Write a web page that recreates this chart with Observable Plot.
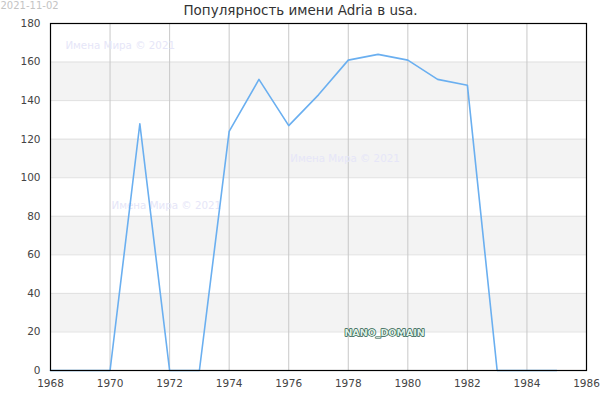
<!DOCTYPE html>
<html>
<head>
<meta charset="utf-8">
<script src="https://cdn.jsdelivr.net/npm/d3@7"></script>
<script src="https://cdn.jsdelivr.net/npm/@observablehq/plot@0.6"></script>
<style>
body { margin: 0; background: #fff; }
svg { font-family: "DejaVu Sans", sans-serif; }
</style>
</head>
<body>
<div id="chart"></div>
<script>
const years = [1968,1969,1970,1971,1972,1973,1974,1975,1976,1977,1978,1979,1980,1981,1982,1983,1984,1985];
const counts = [0,0,0,128,0,0,124,151,127,143,161,164,161,151,148,0,0,0];
const xTicks = [1968,1970,1972,1974,1976,1978,1980,1982,1984,1986];
const yTicks = [0,20,40,60,80,100,120,140,160,180];
const bandStarts = [20,60,100,140];
const title = "Популярность имени Adria в usa.";
const dateLabel = "2021-11-02";
const watermark = "Имена Мира © 2021";
const watermarkPos = [{x:1968.5,y:168.5},{x:1976.05,y:110},{x:1970.05,y:85.5}];
const domainLabel = "NANO_DOMAIN";
const domainPos = [{x:1977.87,y:19.5}];

const data = years.map((y,i)=>({year:y, n:counts[i]}));

const plot = Plot.plot({
  width: 600,
  height: 400,
  marginLeft: 50,
  marginRight: 14,
  marginTop: 23,
  marginBottom: 30,
  style: {fontFamily: "DejaVu Sans, sans-serif", fontSize: "10.5px", color: "#444", background: "#fff"},
  x: {domain: [1968,1986], ticks: xTicks, tickFormat: d=>String(d), tickSize: 0, tickPadding: 9, label: null},
  y: {domain: [0,180], ticks: yTicks, tickSize: 0, tickPadding: 10, label: null},
  marks: [
    Plot.rect(bandStarts, {y1: d=>d, y2: d=>d+20, fill: "#f3f3f3"}),
    Plot.ruleY(yTicks, {stroke: "#e0e0e0", strokeWidth: 1}),
    Plot.ruleX(xTicks, {stroke: "#c8c8c8", strokeWidth: 1}),
    Plot.text(watermarkPos, {x:"x", y:"y", text: ()=>watermark, textAnchor:"start", fill:"#e6e6f8", fontSize: "10.3px"}),
    Plot.line(data, {x:"year", y:"n", stroke:"#6aaff0", strokeWidth: 1.6}),
    Plot.text(domainPos, {x:"x", y:"y", text: ()=>domainLabel, textAnchor:"start", fill:"#dff0e6", stroke:"#2a5a4a", strokeWidth: 1.4, paintOrder:"stroke", fontSize: "9.5px", fontWeight: "bold"}),
    Plot.frame({stroke: "#000", strokeWidth: 1.2}),
    Plot.axisX({ticks: xTicks, tickSize: 0, tickPadding: 9, tickFormat: d=>String(d), fontSize: "10.5px", fill: "#444"}),
    Plot.axisY({ticks: yTicks, tickSize: 0, tickPadding: 10, fontSize: "10.5px", fill: "#444"}),
    Plot.text([title], {frameAnchor: "top", lineAnchor: "middle", dx: -18, dy: -13, text: d=>d, fontSize: "13.5px", fill: "#333"}),
    Plot.text([dateLabel], {frameAnchor: "top-left", lineAnchor: "top", dx: -50, dy: -22, text: d=>d, fontSize: "10px", fill: "#c4c4c4", textAnchor: "start"})
  ]
});
document.getElementById("chart").appendChild(plot);
</script>
</body>
</html>
